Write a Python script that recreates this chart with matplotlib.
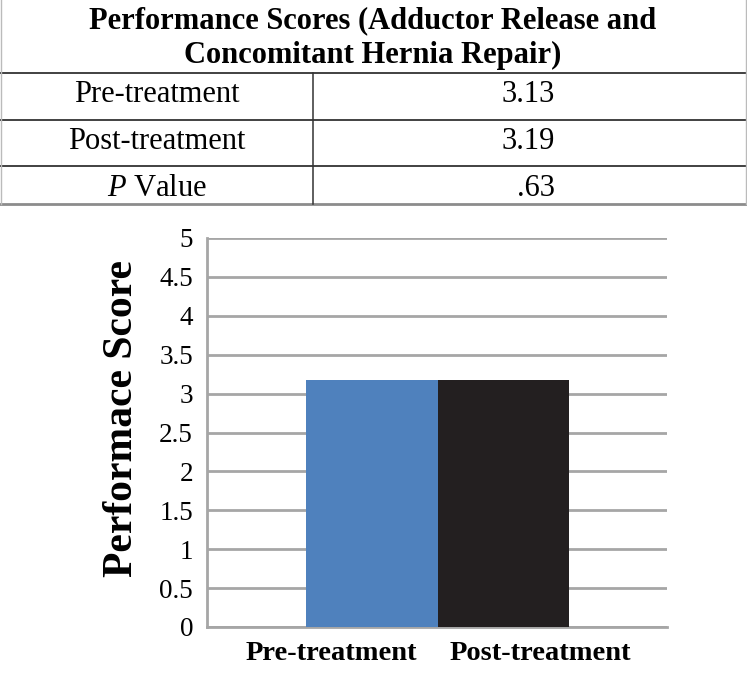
import matplotlib.pyplot as plt
from matplotlib.lines import Line2D

plt.rcParams['font.family'] = ['Liberation Serif', 'DejaVu Serif']
plt.rcParams['mathtext.fontset'] = 'custom'
plt.rcParams['mathtext.rm'] = 'Liberation Serif'
plt.rcParams['mathtext.it'] = 'Liberation Serif:italic'

# data
title_lines = ['Performance Scores (Adductor Release and', 'Concomitant Hernia Repair)']
row_labels = ['Pre-treatment', 'Post-treatment', r'$\mathit{P}$ Value']
row_values = ['3.13', '3.19', '.63']
categories = ['Pre-treatment', 'Post-treatment']
bar_values = [3.17, 3.17]
bar_colors = ['#4f81bd', '#231f20']

W, H = 747, 690
fig = plt.figure(figsize=(W / 100, H / 100), dpi=100)

def fx(px):
    return px / W

def fy(py):
    return 1 - py / H

# table on top
for t, yb in zip(title_lines, [28, 63]):
    fig.text(fx(373), fy(yb), t, ha='center', va='baseline',
             fontsize=22, fontweight='bold')

hlines = [72.5, 120, 166]
for y in hlines:
    fig.add_artist(Line2D([0, 1], [fy(y), fy(y)], color='#333333', lw=1.3))
fig.add_artist(Line2D([0, 1], [fy(204), fy(204)], color='#8c8c8c', lw=2))
fig.add_artist(Line2D([fx(313), fx(313)], [fy(72.5), fy(204)], color='#333333', lw=1.1))
for x in [0.6, 746.4]:
    fig.add_artist(Line2D([fx(x), fx(x)], [fy(0), fy(204)], color='#bbbbbb', lw=1))

row_base = [102, 149, 196]
for lab, val, y in zip(row_labels, row_values, row_base):
    fig.text(fx(157), fy(y), lab, ha='center', va='baseline', fontsize=22)
    fig.text(fx(555), fy(y), val, ha='right', va='baseline', fontsize=22)

# bar chart
ax = fig.add_axes([fx(207), 1 - 627 / H, (667 - 207) / W, (627 - 238) / H])
x = list(range(len(categories)))
ax.bar(x, bar_values, width=1.0, color=bar_colors, zorder=3)
ax.set_xlim(-1.256, 2.248)
ax.set_ylim(0, 5)
ax.set_yticks([i * 0.5 for i in range(11)])
ax.set_yticklabels(['0', '0.5', '1', '1.5', '2', '2.5', '3', '3.5', '4', '4.5', '5'])
ax.yaxis.grid(True, color='#a6a6a6', lw=2, zorder=0)
ax.tick_params(axis='y', length=0, pad=10, labelsize=19.5)
ax.set_xticks([-0.31, 1.28])
ax.set_xticklabels(categories, fontsize=20.5, fontweight='bold')
ax.tick_params(axis='x', length=0, pad=10)
for s in ['top', 'right']:
    ax.spines[s].set_visible(False)
ax.spines['left'].set_color('#a6a6a6')
ax.spines['left'].set_linewidth(2)
ax.spines['bottom'].set_color('#a6a6a6')
ax.spines['bottom'].set_linewidth(2)
ax.set_ylabel('Performace Score', fontsize=30, fontweight='bold')
ax.yaxis.set_label_coords(-0.143, 0.536)

fig.savefig('out.png', dpi=100)
